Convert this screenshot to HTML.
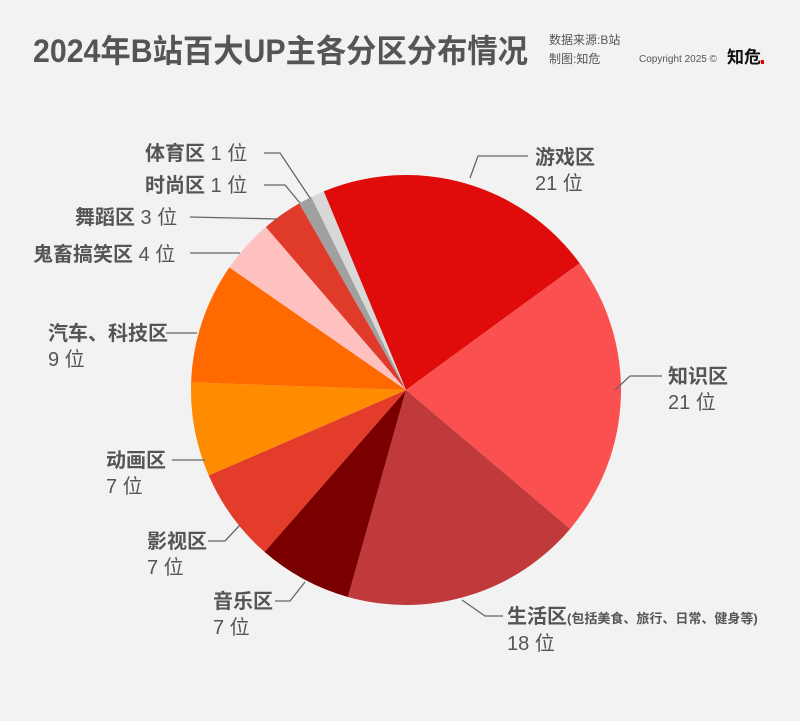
<!DOCTYPE html>
<html><head><meta charset="utf-8"><style>
body{margin:0;background:#f2f2f2;}
svg{display:block;font-family:"Liberation Sans","Noto Sans CJK SC",sans-serif;}
.n{font-weight:bold;fill:#555;font-size:20px;}
.v{fill:#555;font-size:20px;}
.l{stroke:#666;stroke-width:1.3;fill:none;}
</style></head><body>
<svg id="s" width="800" height="721" viewBox="0 0 800 721">
<rect width="800" height="721" fill="#f2f2f2"/>
<text x="33" y="62" font-size="32" font-weight="bold" fill="#555" textLength="495" lengthAdjust="spacingAndGlyphs">2024年B站百大UP主各分区分布情况</text>
<text x="549" y="44" font-size="12" fill="#555">数据来源:B站</text>
<text x="549" y="63" font-size="12" fill="#555">制图:知危</text>
<text x="639" y="62" font-size="10" fill="#555">Copyright 2025 ©</text>
<text x="727" y="63" font-size="17" font-weight="bold" fill="#111">知危</text>
<rect x="761" y="60" width="3" height="4" fill="#e00"/>
<g id="pie"></g>
<g>
<text x="145" y="160"><tspan class="n">体育区</tspan><tspan class="v"> 1 位</tspan></text>
<polyline class="l" points="264,153 280,153 310,198"/>
<text x="145" y="192"><tspan class="n">时尚区</tspan><tspan class="v"> 1 位</tspan></text>
<polyline class="l" points="264,185 285,185 300,203"/>
<text x="75" y="224"><tspan class="n">舞蹈区</tspan><tspan class="v"> 3 位</tspan></text>
<polyline class="l" points="190,217 278,219"/>
<text x="33" y="261"><tspan class="n">鬼畜搞笑区</tspan><tspan class="v"> 4 位</tspan></text>
<polyline class="l" points="190,253 240,253"/>
<text x="48" y="340" class="n">汽车、科技区</text>
<text x="48" y="366" class="v">9 位</text>
<polyline class="l" points="166,333 197,333"/>
<text x="106" y="467" class="n">动画区</text>
<text x="106" y="493" class="v">7 位</text>
<polyline class="l" points="172,460 205,460"/>
<text x="147" y="548" class="n">影视区</text>
<text x="147" y="574" class="v">7 位</text>
<polyline class="l" points="208,541 225,541 240,525"/>
<text x="213" y="608" class="n">音乐区</text>
<text x="213" y="634" class="v">7 位</text>
<polyline class="l" points="275,601 290,601 305,582"/>
<text x="507" y="623"><tspan class="n">生活区</tspan><tspan font-size="13" font-weight="bold" fill="#555">(包括美食、旅行、日常、健身等)</tspan></text>
<text x="507" y="650" class="v">18 位</text>
<polyline class="l" points="462,600 485,616 503,616"/>
<text x="668" y="383" class="n">知识区</text>
<text x="668" y="409" class="v">21 位</text>
<polyline class="l" points="615,390 630,376 662,376"/>
<text x="535" y="164" class="n">游戏区</text>
<text x="535" y="190" class="v">21 位</text>
<polyline class="l" points="470,178 478,156 528,156"/>
</g>
</svg>
<script>
var d=[[21,"#e00b0b"],[21,"#fa5050"],[18,"#c0393b"],[7,"#7a0000"],[7,"#e43c2a"],[7,"#ff8c00"],[9,"#ff6a00"],[4,"#ffc0c0"],[3,"#e03a2a"],[1,"#a0a0a0"],[1,"#d8d8d8"]];
var cx=406,cy=390,r=215,a=-22.5,u=360/99,h="";
function p(t){t=t*Math.PI/180;return (cx+r*Math.sin(t)).toFixed(2)+","+(cy-r*Math.cos(t)).toFixed(2);}
d.forEach(function(s){var b=a+s[0]*u;h+='<path d="M'+cx+','+cy+' L'+p(a)+' A'+r+','+r+' 0 '+(b-a>180?1:0)+' 1 '+p(b)+' Z" fill="'+s[1]+'"/>';a=b;});
document.getElementById("pie").innerHTML=h;
</script>
</body></html>
